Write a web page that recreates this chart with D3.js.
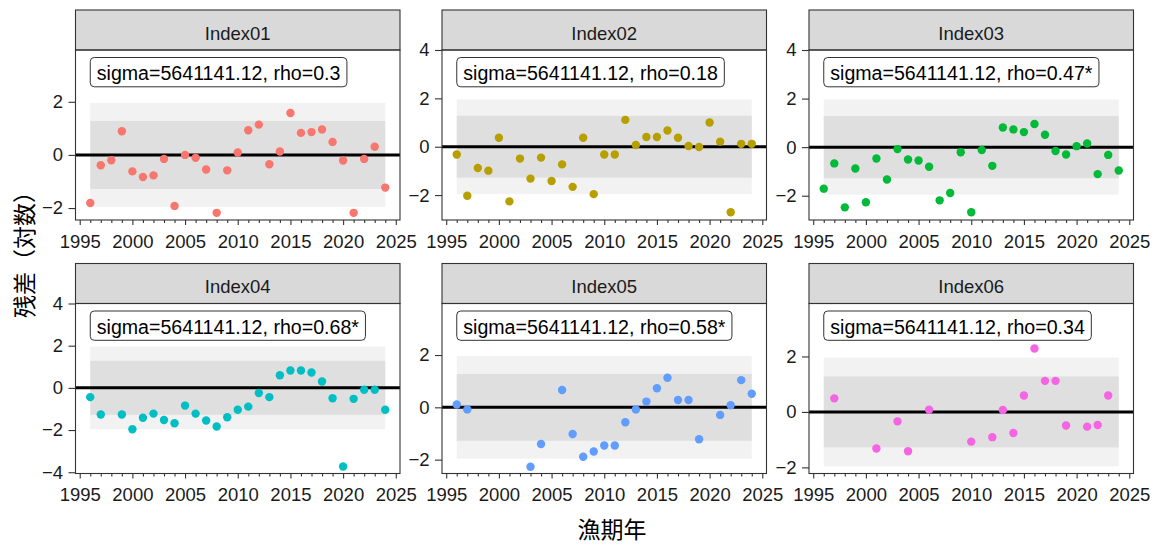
<!DOCTYPE html>
<html>
<head>
<meta charset="utf-8">
<title>残差</title>
<script src="https://d3js.org/d3.v7.min.js"></script>
<style>
body { margin: 0; background: #fff; }
text { font-family: "Liberation Sans", Arial, sans-serif; }
.jp { font-family: "Noto Sans CJK JP", sans-serif; font-size: 23px; fill: #000; }
.tick text { font-size: 18.5px; fill: #1a1a1a; }
.tick line { stroke: #333; stroke-width: 1.1; }
</style>
</head>
<body>
<div id="chart"></div>
<script>
var years = [1996,1997,1998,1999,2000,2001,2002,2003,2004,2005,2006,2007,2008,2009,2010,
             2011,2012,2013,2014,2015,2016,2017,2018,2019,2020,2021,2022,2023,2024];
var index01 = [-1.81,-0.39,-0.20,0.89,-0.62,-0.83,-0.77,-0.15,-1.92,0.00,-0.11,-0.55,-2.18,-0.58,0.09,
               0.93,1.14,-0.35,0.13,1.58,0.83,0.86,0.96,0.49,-0.21,-2.18,-0.15,0.31,-1.23];
var index02 = [-0.32,-2.03,-0.88,-0.99,0.37,-2.26,-0.49,-1.32,-0.45,-1.42,-0.73,-1.66,0.37,-1.96,-0.32,
               -0.32,1.11,0.07,0.40,0.40,0.67,0.37,0.03,-0.01,1.00,0.21,-2.71,0.12,0.12];
var index03 = [-1.71,-0.67,-2.48,-0.88,-2.27,-0.47,-1.33,-0.08,-0.51,-0.55,-0.81,-2.19,-1.89,-0.21,-2.68,
               -0.12,-0.77,0.81,0.73,0.62,0.95,0.51,-0.16,-0.30,0.04,0.15,-1.11,-0.32,-0.96];
var index04 = [-0.44,-1.26,null,-1.26,-1.96,-1.42,-1.22,-1.52,-1.68,-0.84,-1.22,-1.55,-1.83,-1.39,-1.04,
               -0.89,-0.24,-0.44,0.60,0.82,0.82,0.73,0.30,-0.49,-3.73,-0.52,-0.09,-0.09,-1.04];
var index05 = [0.11,-0.08,null,null,null,null,null,-2.27,-1.40,null,0.66,-1.02,-1.89,-1.69,-1.46,
               -1.46,-0.57,-0.08,0.22,0.73,1.13,0.28,0.28,-1.22,null,-0.29,0.08,1.04,0.52];
var index06 = [null,0.49,null,null,null,-1.32,null,-0.34,-1.42,null,0.08,null,null,null,-1.07,
               null,-0.91,0.07,-0.76,0.59,2.29,1.12,1.12,-0.49,null,-0.53,-0.47,0.59,null];

var names = ["Index01","Index02","Index03","Index04","Index05","Index06"];
var series = [index01, index02, index03, index04, index05, index06];
var sigmaText = "5641141.12";
var rhoText = ["0.3","0.18","0.47*","0.68*","0.58*","0.34"];
var colors = ["#F8766D","#B79F00","#00BA38","#00BFC4","#619CFF","#F564E3"];

// y limits of each facet (free scales)
var yLimits = [[-2.45,3.95],[-3.03,4.0],[-3.0,4.0],[-4.06,4.0],[-2.53,3.97],[-2.22,3.91]];
var xTicks = [1995,2000,2005,2010,2015,2020,2025];
var yTicks = [-4,-2,0,2,4];
var band80 = 1.28, band95 = 1.96;

var W = 1159, H = 545;
var colX = [75.5, 442, 809], rowY = [10, 263.5];
var panelW = 324.5, stripH = 40, panelH = 170;

var svg = d3.select("#chart").append("svg")
  .attr("width", W)
  .attr("height", H);

var x = d3.scaleLinear().domain([1994.6, 2025.4]).range([0, panelW]);
var minor = d3.range(1995, 2026).filter(function(v) { return v % 5 != 0; });

series.forEach(function(vals, i) {
  var g = svg.append("g")
    .attr("transform", "translate(" + colX[i % 3] + "," + rowY[Math.floor(i / 3)] + ")");

  // strip
  g.append("rect")
    .attr("width", panelW).attr("height", stripH)
    .attr("fill", "#d9d9d9").attr("stroke", "#333").attr("stroke-width", 1.1);
  g.append("text")
    .attr("x", panelW / 2).attr("y", 29.5)
    .attr("text-anchor", "middle")
    .style("font-size", "18.5px").style("fill", "#1a1a1a")
    .text(names[i]);

  var p = g.append("g").attr("transform", "translate(0," + stripH + ")");
  var y = d3.scaleLinear().domain(yLimits[i]).range([panelH, 0]);
  var pts = years.map(function(yr, k) { return {year: yr, v: vals[k]}; })
    .filter(function(d) { return d.v !== null; });
  var span = d3.extent(years);

  p.append("rect")
    .attr("x", x(span[0])).attr("width", x(span[1]) - x(span[0]))
    .attr("y", y(band95)).attr("height", y(-band95) - y(band95))
    .attr("fill", "#f2f2f2");
  p.append("rect")
    .attr("x", x(span[0])).attr("width", x(span[1]) - x(span[0]))
    .attr("y", y(band80)).attr("height", y(-band80) - y(band80))
    .attr("fill", "#dfdfdf");

  p.append("line")
    .attr("x1", 0).attr("x2", panelW)
    .attr("y1", y(0)).attr("y2", y(0))
    .attr("stroke", "#000").attr("stroke-width", 3);

  p.selectAll("circle").data(pts).enter()
    .append("circle")
      .attr("cx", function(d) { return x(d.year); })
      .attr("cy", function(d) { return y(d.v); })
      .attr("r", 4.2)
      .attr("fill", colors[i]);

  // sigma / rho label
  var lab = p.append("g");
  var t = lab.append("text")
    .attr("x", x(span[0]) + 6.5).attr("y", 30.2)
    .style("font-size", "19.6px").style("fill", "#000")
    .text("sigma=" + sigmaText + ", rho=" + rhoText[i]);
  var tw = t.node().getComputedTextLength();
  lab.insert("rect", "text")
    .attr("x", x(span[0])).attr("y", 7.5)
    .attr("width", tw + 13).attr("height", 29.3)
    .attr("rx", 4).attr("ry", 4)
    .attr("fill", "#fff").attr("stroke", "#333").attr("stroke-width", 1);

  p.append("rect")
    .attr("width", panelW).attr("height", panelH)
    .attr("fill", "none").attr("stroke", "#333").attr("stroke-width", 1.1);

  // axes
  p.append("g")
    .attr("transform", "translate(0," + panelH + ")")
    .call(d3.axisBottom(x).tickValues(xTicks).tickSize(5).tickSizeOuter(0).tickPadding(9.5).tickFormat(d3.format("d")))
    .call(function(a) { a.select(".domain").remove(); });
  p.append("g")
    .attr("transform", "translate(0," + panelH + ")")
    .call(d3.axisBottom(x).tickValues(minor).tickSize(3).tickSizeOuter(0).tickFormat(""))
    .call(function(a) { a.select(".domain").remove(); });
  var yd = yLimits[i];
  p.append("g")
    .call(d3.axisLeft(y)
      .tickValues(yTicks.filter(function(v) { return v >= yd[0] && v <= yd[1]; }))
      .tickFormat(d3.format("d"))
      .tickSize(7).tickSizeOuter(0).tickPadding(5.5))
    .call(function(a) { a.select(".domain").remove(); });
});

svg.append("text")
  .attr("class", "jp")
  .attr("x", 612).attr("y", 538)
  .attr("text-anchor", "middle")
  .text("漁期年");

svg.append("text")
  .attr("class", "jp")
  .attr("transform", "translate(33,249) rotate(-90)")
  .attr("text-anchor", "middle")
  .text("残差（対数）");
</script>
</body>
</html>
